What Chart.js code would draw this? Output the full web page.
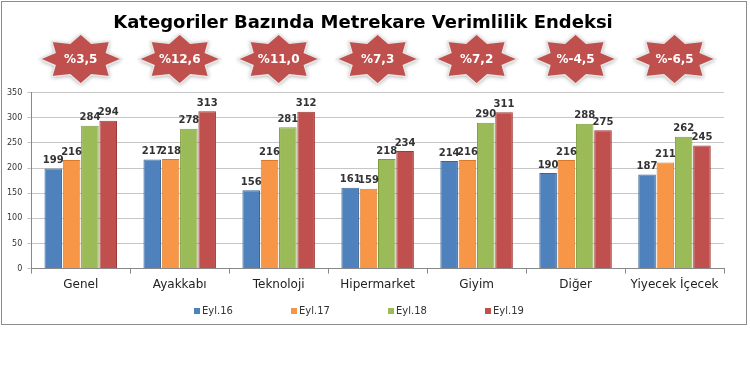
<!DOCTYPE html>
<html>
<head>
<meta charset="utf-8">
<script src="https://cdn.jsdelivr.net/npm/chart.js@4"></script>
<style>
  body { margin: 0; background: #fff; }
  #wrap { position: absolute; left: 1px; top: 1px; width: 744px; height: 322px; border: 1px solid #8c8c8c; }
</style>
</head>
<body>
<div id="wrap"><canvas id="ourChart"></canvas></div>
<script>
var categories = ["Genel", "Ayakkabı", "Teknoloji", "Hipermarket", "Giyim", "Diğer", "Yiyecek İçecek"];
var eyl16 = [199, 217, 156, 161, 214, 190, 187];
var eyl17 = [216, 218, 216, 159, 216, 216, 211];
var eyl18 = [284, 278, 281, 218, 290, 288, 262];
var eyl19 = [294, 313, 312, 234, 311, 275, 245];
var changes = ["%3,5", "%12,6", "%11,0", "%7,3", "%7,2", "%-4,5", "%-6,5"];
var yTicks = [0, 50, 100, 150, 200, 250, 300, 350];

var FONT = "'DejaVu Sans', Verdana, sans-serif";

// bar value labels
var valueLabels = {
    id: 'valueLabels',
    afterDatasetsDraw: function (chart) {
        var ctx = chart.ctx;
        ctx.save();
        ctx.font = 'bold 10px ' + FONT;
        ctx.fillStyle = '#333';
        ctx.textAlign = 'center';
        ctx.textBaseline = 'bottom';
        chart.data.datasets.forEach(function (ds, i) {
            chart.getDatasetMeta(i).data.forEach(function (bar, j) {
                ctx.fillText(ds.data[j], bar.x, bar.y - 3);
            });
        });
        ctx.restore();
    }
};

// red stars with change percentage above each category
var stars = {
    id: 'stars',
    afterDraw: function (chart) {
        var ctx = chart.ctx;
        var xs = chart.scales.x;
        var cy = 57;
        ctx.save();
        changes.forEach(function (txt, i) {
            var cx = xs.getPixelForValue(i);
            var rx = 41, ry = 25, k = 0.68;
            ctx.beginPath();
            for (var p = 0; p < 16; p++) {
                var a = p * Math.PI / 8;
                var f = (p % 2 === 0) ? 1 : k;
                var px = cx + Math.cos(a) * rx * f;
                var py = cy + Math.sin(a) * ry * f;
                if (p === 0) ctx.moveTo(px, py); else ctx.lineTo(px, py);
            }
            ctx.closePath();
            ctx.shadowColor = 'rgba(0,0,0,0.35)';
            ctx.shadowBlur = 4;
            ctx.shadowOffsetY = 1;
            ctx.fillStyle = '#c0504d';
            ctx.fill();
            ctx.shadowColor = 'transparent';
            ctx.lineWidth = 1.5;
            ctx.strokeStyle = '#e8e8e8';
            ctx.stroke();
            ctx.fillStyle = '#fff';
            ctx.font = 'bold 12px ' + FONT;
            ctx.textAlign = 'center';
            ctx.textBaseline = 'middle';
            ctx.fillText(txt, cx, cy + 1);
        });
        ctx.restore();
    }
};

// legend drawn at the bottom, spread like the original
var bottomLegend = {
    id: 'bottomLegend',
    afterDraw: function (chart) {
        var ctx = chart.ctx;
        var y = 309;
        var startX = 192, step = 97;
        ctx.save();
        ctx.font = '10px ' + FONT;
        ctx.textBaseline = 'middle';
        ctx.textAlign = 'left';
        chart.data.datasets.forEach(function (ds, i) {
            var x = startX + i * step;
            ctx.fillStyle = ds.backgroundColor;
            ctx.fillRect(x, y - 3, 6, 6);
            ctx.fillStyle = '#333';
            ctx.fillText(ds.label, x + 8, y);
        });
        ctx.restore();
    }
};

function ds(label, data, color, border) {
    return {
        label: label,
        data: data,
        backgroundColor: color,
        borderColor: border,
        borderWidth: 1,
        barPercentage: 0.96,
        categoryPercentage: 0.74
    };
}

var chartElement = new Chart(document.getElementById('ourChart'), {
    type: 'bar',
    data: {
        labels: categories,
        datasets: [
            ds('Eyl.16', eyl16, '#4f81bd', '#3a6699'),
            ds('Eyl.17', eyl17, '#f79646', '#d87a2c'),
            ds('Eyl.18', eyl18, '#9bbb59', '#7d9c3e'),
            ds('Eyl.19', eyl19, '#c0504d', '#9c3a37')
        ]
    },
    options: {
        responsive: true,
        maintainAspectRatio: false,
        animation: false,
        layout: { padding: { left: 0, right: 22, top: 0, bottom: 28 } },
        plugins: {
            title: {
                display: true,
                text: 'Kategoriler Bazında Metrekare Verimlilik Endeksi',
                color: '#000',
                font: { family: FONT, size: 18, weight: 'bold' },
                padding: { top: 11, bottom: 58 }
            },
            legend: { display: false },
            tooltip: { enabled: false }
        },
        scales: {
            y: {
                min: 0,
                max: 350,
                afterBuildTicks: function (axis) {
                    axis.ticks = yTicks.map(function (v) { return { value: v }; });
                },
                ticks: { font: { family: FONT, size: 8 }, color: '#333', padding: 5 },
                grid: { color: '#c6c6c6', tickLength: 4 },
                border: { color: '#888' }
            },
            x: {
                ticks: { font: { family: FONT, size: 12 }, color: '#222', padding: 4 },
                grid: { offset: true, drawOnChartArea: false, tickLength: 5, color: '#888' },
                border: { color: '#888' }
            }
        }
    },
    plugins: [valueLabels, stars, bottomLegend]
});
</script>
</body>
</html>
